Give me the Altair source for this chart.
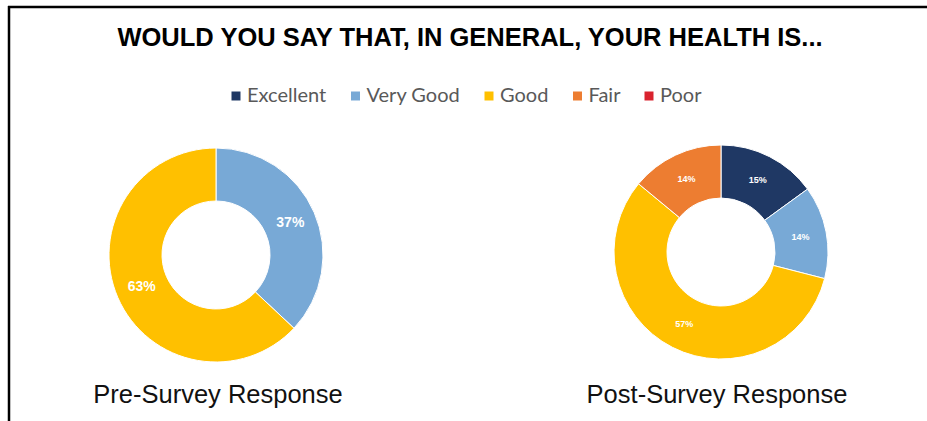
import altair as alt
import pandas as pd

# ---- data ----
categories = ["Excellent", "Very Good", "Good", "Fair", "Poor"]
colors = ["#1f3864", "#78a9d6", "#ffc000", "#ed7d31", "#d9232e"]

pre_categories = ["Very Good", "Good"]
pre_values = [37, 63]

post_categories = ["Excellent", "Very Good", "Good", "Fair"]
post_values = [15, 14, 57, 14]

main_title = "WOULD YOU SAY THAT, IN GENERAL, YOUR HEALTH IS..."
panel_titles = ["Pre-Survey Response", "Post-Survey Response"]


def make_df(cats, vals):
    return pd.DataFrame({
        "category": cats,
        "value": vals,
        "order": [categories.index(c) for c in cats],
        "label": [f"{v}%" for v in vals],
    })


pre_df = make_df(pre_categories, pre_values)
post_df = make_df(post_categories, post_values)

color_scale = alt.Scale(domain=categories, range=colors)


def donut(df, cx, cy, label_size):
    base = alt.Chart(df).encode(
        theta=alt.Theta("value:Q", stack=True, scale=alt.Scale(domain=[0, 100])),
        order=alt.Order("order:Q"),
        x=alt.value(cx),
        y=alt.value(cy),
    )
    arc = base.mark_arc(outerRadius=107, innerRadius=54, stroke="white", strokeWidth=1).encode(
        color=alt.Color("category:N", scale=color_scale, title=None,
                        legend=alt.Legend(values=categories))
    )
    text = base.mark_text(radius=81, font="Liberation Sans", fontWeight="bold",
                          fontSize=label_size, color="white").encode(text="label:N")
    return arc + text


left = donut(pre_df, 216, 255, 14)
right = donut(post_df, 721, 252, 9)

one = pd.DataFrame({"a": [0]})

title_layer = alt.Chart(pd.DataFrame({"t": [main_title]})).mark_text(
    font="Liberation Sans", fontWeight="bold", fontSize=25.5, color="black",
    align="center", baseline="alphabetic"
).encode(text="t:N", x=alt.value(470), y=alt.value(46))

sub_df = pd.DataFrame({"t": panel_titles, "xpos": [218, 717]})
sub_layer = alt.Chart(sub_df).mark_text(
    font="Liberation Sans", fontSize=25.5, color="#111111",
    align="center", baseline="alphabetic"
).encode(text="t:N", x=alt.X("xpos:Q", scale=None), y=alt.value(403))

border_top = alt.Chart(one).mark_rule(color="black", strokeWidth=2.5).encode(
    x=alt.value(8), x2=alt.value(927), y=alt.value(7))
border_left = alt.Chart(one).mark_rule(color="black", strokeWidth=2.5).encode(
    x=alt.value(9), y=alt.value(6), y2=alt.value(421))

chart = alt.layer(
    border_top, border_left, title_layer, left, right, sub_layer
).properties(
    width=927, height=421,
    autosize=alt.AutoSizeParams(type="none"),
    padding=0,
    background="white",
).configure_view(stroke=None).configure_legend(
    orient="none", legendX=226, legendY=86, direction="horizontal",
    symbolType="square", symbolSize=81, symbolStrokeWidth=0,
    labelFont="Lato", labelFontSize=20, labelColor="#595959",
    labelOffset=1, columnPadding=18.5, padding=0,
)

chart.save("out.html", embed_options={"renderer": "svg", "actions": False})
